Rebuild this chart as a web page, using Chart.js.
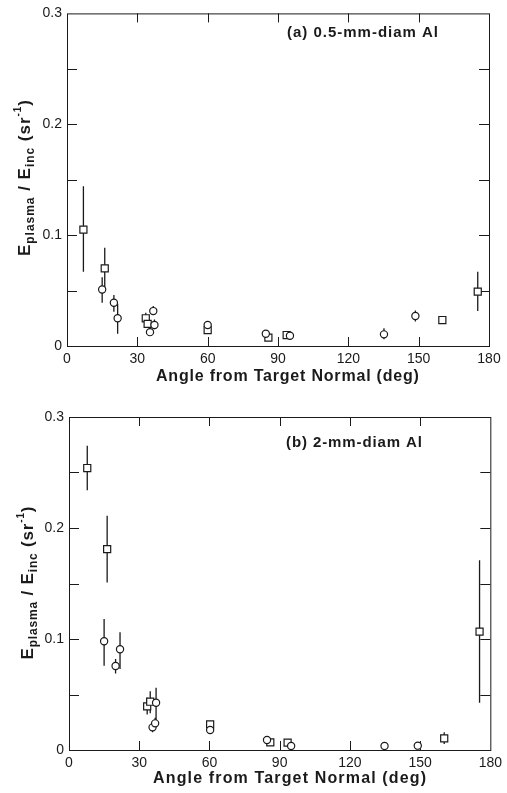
<!DOCTYPE html>
<html>
<head>
<meta charset="utf-8">
<script src="https://cdn.jsdelivr.net/npm/chart.js@4.4.0/dist/chart.umd.min.js"></script>
<style>
  html, body { margin: 0; padding: 0; background: #fff; }
  #wrapA { position: absolute; left: 0; top: 0; width: 507px; height: 390px; }
  #wrapB { position: absolute; left: 0; top: 390px; width: 507px; height: 403px; }
</style>
</head>
<body>
<div id="wrapA"><canvas id="chartA" width="507" height="390"></canvas></div>
<div id="wrapB"><canvas id="chartB" width="507" height="403"></canvas></div>
<script>
// eixos
const xTicks = [0, 30, 60, 90, 120, 150, 180];
const yTicks = [0, 0.05, 0.1, 0.15, 0.2, 0.25, 0.3];

// painel (a) 0.5 mm - círculos
const aCircAngle = [15, 20, 21.6, 35.4, 36.8, 37.3, 60, 84.8, 95.1, 135.2, 148.6];
const aCircValue = [0.051, 0.039, 0.025, 0.0125, 0.0315, 0.019, 0.019, 0.011, 0.0093, 0.0105, 0.027];
const aCircLow   = [0.039, 0.031, 0.011, 0.010, 0.028, 0.015, null, null, 0.0075, 0.006, 0.022];
const aCircHigh  = [0.062, 0.046, 0.038, 0.016, 0.036, 0.024, null, null, 0.012, 0.016, 0.032];
// painel (a) - quadrados
const aSqAngle = [7, 16.1, 33.6, 34.4, 60, 85.9, 93.7, 160.1, 175.2];
const aSqValue = [0.105, 0.070, 0.025, 0.020, 0.0144, 0.0075, 0.0099, 0.0234, 0.049];
const aSqLow   = [0.067, 0.053, 0.021, 0.017, null, null, 0.008, 0.020, 0.0315];
const aSqHigh  = [0.144, 0.0886, 0.030, 0.023, null, null, 0.013, 0.027, 0.067];

// painel (b) 2 mm - círculos
const bCircAngle = [15, 19.9, 21.8, 35.7, 36.8, 37.2, 60.3, 84.6, 94.9, 134.8, 149];
const bCircValue = [0.098, 0.0757, 0.0907, 0.0204, 0.024, 0.0426, 0.018, 0.009, 0.0036, 0.0036, 0.0039];
const bCircLow   = [0.076, 0.069, 0.073, 0.016, 0.019, 0.027, null, null, null, null, 0.001];
const bCircHigh  = [0.118, 0.082, 0.106, 0.025, 0.029, 0.056, null, null, null, null, 0.0039];
// painel (b) - quadrados
const bSqAngle = [7.8, 16.3, 33.4, 34.7, 60.3, 86, 93.4, 160.3, 175.4];
const bSqValue = [0.254, 0.181, 0.0393, 0.0435, 0.023, 0.0069, 0.0066, 0.0105, 0.1066];
const bSqLow   = [0.234, 0.151, 0.032, 0.033, null, null, 0.003, 0.0054, 0.0426];
const bSqHigh  = [0.274, 0.211, 0.047, 0.053, null, null, 0.009, 0.016, 0.171];

const INK = '#1a1a1a';
const FONT = '"Liberation Sans", Arial, sans-serif';

function pts(xs, ys) { return xs.map((v, i) => ({ x: v, y: ys[i] })); }

// escreve texto ajustado a uma largura alvo
function fitText(ctx, text, left, cy, width, font) {
  ctx.font = font;
  ctx.letterSpacing = '0px';
  const w0 = ctx.measureText(text).width;
  const sp = (width - w0) / (text.length - 1);
  ctx.letterSpacing = sp.toFixed(2) + 'px';
  ctx.textAlign = 'left';
  ctx.textBaseline = 'middle';
  ctx.fillText(text, left, cy);
  ctx.letterSpacing = '0px';
}

// título do eixo y com subscritos
function drawYTitle(ctx, cx, cy, span) {
  const parts = [
    { t: 'E', f: 'bold 17px ' + FONT, dy: 0 },
    { t: 'plasma', f: 'bold 12px ' + FONT, dy: 6 },
    { t: ' / ', f: 'bold 17px ' + FONT, dy: 0 },
    { t: 'E', f: 'bold 17px ' + FONT, dy: 0 },
    { t: 'inc', f: 'bold 12px ' + FONT, dy: 6 },
    { t: ' (sr', f: 'bold 17px ' + FONT, dy: 0 },
    { t: '-1', f: 'bold 10px ' + FONT, dy: -7 },
    { t: ')', f: 'bold 17px ' + FONT, dy: 0 }
  ];
  let total = 0, chars = 0;
  ctx.letterSpacing = '0px';
  parts.forEach(p => { ctx.font = p.f; p.w = ctx.measureText(p.t).width; total += p.w; chars += p.t.length; });
  const sp = Math.max(0, (span - total) / (chars - 1));
  ctx.save();
  ctx.translate(cx, cy);
  ctx.rotate(-Math.PI / 2);
  ctx.fillStyle = INK;
  ctx.textBaseline = 'middle';
  ctx.textAlign = 'left';
  ctx.letterSpacing = sp.toFixed(2) + 'px';
  let x = -span / 2;
  parts.forEach(p => {
    ctx.font = p.f;
    ctx.fillText(p.t, x, p.dy);
    x += p.w + sp * p.t.length;
  });
  ctx.letterSpacing = '0px';
  ctx.restore();
}

const framePlugin = {
  id: 'frame',
  beforeDatasetsDraw(chart, args, opts) {
    const { ctx, chartArea: a, scales: { x, y } } = chart;
    ctx.save();
    ctx.strokeStyle = INK;
    ctx.lineWidth = 1;
    ctx.strokeRect(a.left + 0.5, a.top + 0.5, a.right - a.left, a.bottom - a.top);
    ctx.beginPath();
    x.ticks.forEach(t => {
      if (t.value <= x.min || t.value >= x.max) return;
      const px = Math.round(x.getPixelForValue(t.value)) + 0.5;
      ctx.moveTo(px, a.bottom); ctx.lineTo(px, a.bottom - 9);
      ctx.moveTo(px, a.top); ctx.lineTo(px, a.top + 9);
    });
    y.ticks.forEach(t => {
      if (t.value <= y.min + 1e-9 || t.value >= y.max - 1e-9) return;
      const py = Math.round(y.getPixelForValue(t.value)) + 0.5;
      ctx.moveTo(a.left, py); ctx.lineTo(a.left + 10, py);
      ctx.moveTo(a.right, py); ctx.lineTo(a.right - 10, py);
    });
    ctx.stroke();
    // barras de erro
    ctx.lineWidth = 1.3;
    ctx.beginPath();
    chart.data.datasets.forEach((ds, i) => {
      const meta = chart.getDatasetMeta(i);
      ds.data.forEach((p, j) => {
        if (ds.errLow[j] == null) return;
        const px = meta.data[j].x;
        ctx.moveTo(px, y.getPixelForValue(ds.errLow[j]));
        ctx.lineTo(px, y.getPixelForValue(ds.errHigh[j]));
      });
    });
    ctx.stroke();
    ctx.restore();
  },
  afterDraw(chart, args, opts) {
    const ctx = chart.ctx;
    ctx.save();
    ctx.fillStyle = INK;
    fitText(ctx, opts.xTitle, opts.xLeft, opts.xY, opts.xWidth, opts.xFont);
    fitText(ctx, opts.note, opts.noteLeft, opts.noteY, opts.noteWidth, opts.noteFont);
    drawYTitle(ctx, opts.yX, opts.yY, opts.ySpan);
    ctx.restore();
  }
};

function makeChart(id, circ, sq, layout, frameOpts) {
  const ctx = document.getElementById(id).getContext('2d');
  return new Chart(ctx, {
    type: 'scatter',
    data: {
      datasets: [{
        label: 'circles',
        data: pts(circ[0], circ[1]),
        errLow: circ[2], errHigh: circ[3],
        pointStyle: 'circle',
        pointRadius: 3.6,
        borderColor: INK,
        backgroundColor: '#fff',
        borderWidth: 1.2
      }, {
        label: 'squares',
        data: pts(sq[0], sq[1]),
        errLow: sq[2], errHigh: sq[3],
        pointStyle: 'rect',
        pointRadius: 5,
        borderColor: INK,
        backgroundColor: '#fff',
        borderWidth: 1.2
      }]
    },
    options: {
      responsive: false,
      animation: false,
      layout: { padding: layout.padding },
      plugins: {
        legend: { display: false },
        tooltip: { enabled: false },
        frame: frameOpts
      },
      scales: {
        x: {
          type: 'linear', min: 0, max: 180,
          afterBuildTicks: s => { s.ticks = xTicks.map(v => ({ value: v })); },
          afterFit: s => { s.height = layout.xHeight; },
          grid: { display: false, drawTicks: false },
          border: { display: false },
          ticks: { color: INK, font: { family: FONT, size: 14 }, padding: 5, maxRotation: 0, autoSkip: false, callback: v => String(v) }
        },
        y: {
          min: 0, max: 0.3,
          afterBuildTicks: s => { s.ticks = yTicks.map(v => ({ value: v })); },
          afterFit: s => { s.width = layout.yWidth; },
          grid: { display: false, drawTicks: false },
          border: { display: false },
          ticks: {
            color: INK, font: { family: FONT, size: 14 }, padding: 5, autoSkip: false,
            callback: v => {
              const r = Math.round(v * 10);
              if (Math.abs(v * 10 - r) > 1e-6) return '';
              return r === 0 ? '0' : (r / 10).toFixed(1);
            }
          }
        }
      }
    },
    plugins: [framePlugin]
  });
}

makeChart('chartA',
  [aCircAngle, aCircValue, aCircLow, aCircHigh],
  [aSqAngle, aSqValue, aSqLow, aSqHigh],
  { padding: { top: 13, right: 18, left: 0, bottom: 0 }, yWidth: 67, xHeight: 44 },
  {
    xTitle: 'Angle from Target Normal (deg)', xLeft: 156, xY: 377, xWidth: 263, xFont: 'bold 16px ' + FONT,
    note: '(a) 0.5-mm-diam Al', noteLeft: 287, noteY: 33, noteWidth: 151, noteFont: 'bold 15px ' + FONT,
    yX: 25, yY: 178, ySpan: 156
  });

makeChart('chartB',
  [bCircAngle, bCircValue, bCircLow, bCircHigh],
  [bSqAngle, bSqValue, bSqLow, bSqHigh],
  { padding: { top: 27, right: 14, left: 0, bottom: 0 }, yWidth: 69, xHeight: 43 },
  {
    xTitle: 'Angle from Target Normal (deg)', xLeft: 153, xY: 389, xWidth: 273, xFont: 'bold 16px ' + FONT,
    note: '(b) 2-mm-diam Al', noteLeft: 286, noteY: 53, noteWidth: 136, noteFont: 'bold 15px ' + FONT,
    yX: 28, yY: 193, ySpan: 153
  });
</script>
</body>
</html>
